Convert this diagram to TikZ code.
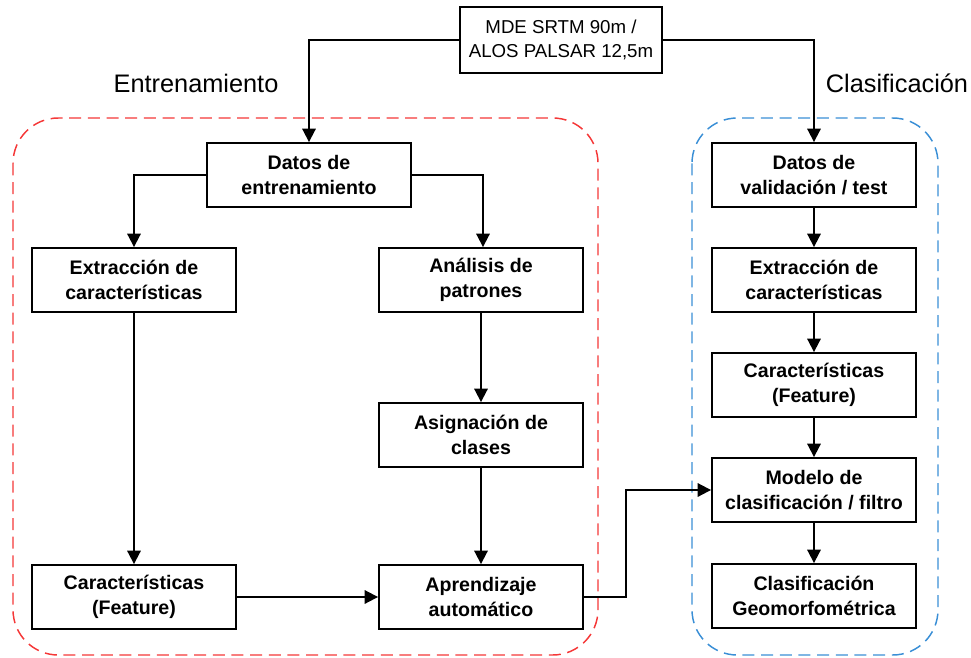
\documentclass[tikz,border=0pt]{standalone}
\usepackage{fontspec}
\setmainfont{Liberation Sans}
\usetikzlibrary{arrows.meta}
\definecolor{trainred}{HTML}{F53838}
\definecolor{classblue}{HTML}{3A8FD6}
\tikzset{
  stepbox/.style={draw, line width=1.4pt, fill=white, minimum width=153pt, minimum height=48pt,
    align=center, inner sep=2pt, font=\fontsize{14.7}{18.7}\selectfont\bfseries},
  srcbox/.style={draw, line width=1.4pt, fill=white, minimum width=152pt, minimum height=49pt,
    align=center, inner sep=2pt, font=\fontsize{14}{18.5}\selectfont},
  link/.style={line width=1.4pt},
  arr/.style={link, -{Triangle[length=10pt,width=10pt]}},
  group/.style={line width=1.1pt, dash pattern=on 9pt off 5pt, rounded corners=34pt},
  grouplabel/.style={font=\fontsize{19}{22}\selectfont}
}
\begin{document}
\begin{tikzpicture}[x=0.75pt, y=-0.75pt]
\useasboundingbox (0,0) rectangle (971,657);

% group frames
\draw[group, trainred] (13,118) rectangle (598,655);
\draw[group, classblue] (692,118) rectangle (938,655);
\node[grouplabel] (lbltrain) at (196,83) {Entrenamiento};
\node[grouplabel] (lblclass) at (897,83) {Clasificación};

% source data
\node[srcbox] (src) at (561,40) {MDE SRTM 90m /\\ALOS PALSAR 12,5m};

% training branch
\node[stepbox] (dent) at (309,175) {Datos de\\entrenamiento};
\node[stepbox] (ext1) at (134,280) {Extracción de\\características};
\node[stepbox] (ana) at (481,280) {Análisis de\\patrones};
\node[stepbox] (asig) at (481,435) {Asignación de\\clases};
\node[stepbox] (car1) at (134,597) {Características\\(Feature)};
\node[stepbox] (apr) at (481,597) {Aprendizaje\\automático};

% classification branch
\node[stepbox] (dval) at (814,175) {Datos de\\validación / test};
\node[stepbox] (ext2) at (814,280) {Extracción de\\características};
\node[stepbox] (car2) at (814,385) {Características\\(Feature)};
\node[stepbox] (mod) at (814,490) {Modelo de\\clasificación / filtro};
\node[stepbox] (geo) at (814,596) {Clasificación\\Geomorfométrica};

% connectors
\draw[arr] (src.west) -| (dent.north);
\draw[arr] (src.east) -| (dval.north);
\draw[arr] (dent.west) -| (ext1.north);
\draw[arr] (dent.east) -| ([xshift=1.5pt]ana.north);
\draw[arr] (ext1) -- (car1);
\draw[arr] (ana) -- (asig);
\draw[arr] (asig) -- (apr);
\draw[arr] (car1) -- (apr);
\draw[arr] (apr.east) -- ++(42,0) |- (mod.west);
\draw[arr] (dval) -- (ext2);
\draw[arr] (ext2) -- (car2);
\draw[arr] (car2) -- (mod);
\draw[arr] (mod) -- (geo);
\end{tikzpicture}
\end{document}
